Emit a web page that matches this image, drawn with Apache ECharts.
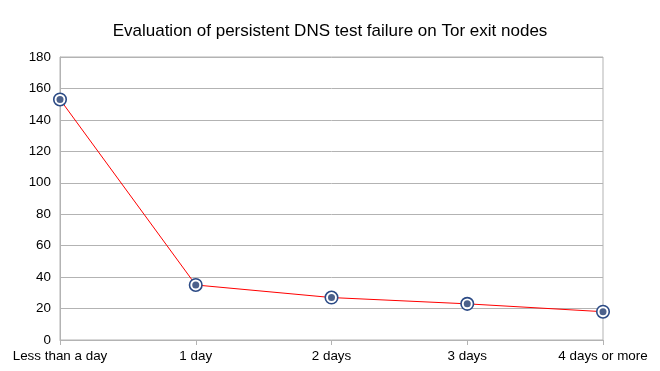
<!DOCTYPE html>
<html><head><meta charset="utf-8">
<script src="https://cdn.jsdelivr.net/npm/echarts@6/dist/echarts.min.js"></script>
<style>html,body{margin:0;padding:0;background:#fff}#c{width:660px;height:371px}</style>
</head><body><div id="c"></div>
<script>
const categories = ['Less than a day', '1 day', '2 days', '3 days', '4 days or more'];
const failures = [153, 35, 27, 23, 18];
const yTicks = { min: 0, max: 180, interval: 20 };

const chart = echarts.init(document.getElementById('c'), null, { renderer: 'canvas' });
chart.setOption({
  animation: false,
  backgroundColor: '#fff',
  textStyle: { fontFamily: 'Liberation Sans' },
  title: {
    text: 'Evaluation of persistent DNS test failure on Tor exit nodes',
    left: 'center', top: 18,
    textStyle: { fontFamily: 'Liberation Sans', fontSize: 17, fontWeight: 'normal', color: '#000' }
  },
  grid: { left: 60, right: 57, top: 57, bottom: 31, containLabel: false, show: true, borderColor: '#b3b3b3', borderWidth: 1 },
  xAxis: {
    type: 'category', data: categories, boundaryGap: false,
    axisLine: { lineStyle: { color: '#b3b3b3' } },
    axisTick: { show: true, alignWithLabel: true, length: 5, lineStyle: { color: '#b3b3b3' } },
    axisLabel: { color: '#000', fontSize: 13.4, margin: 10, fontFamily: 'Liberation Sans' },
    splitLine: { show: false }
  },
  yAxis: {
    type: 'value', min: yTicks.min, max: yTicks.max, interval: yTicks.interval,
    axisLine: { show: true, lineStyle: { color: '#b3b3b3' } },
    axisTick: { show: false },
    axisLabel: { color: '#000', fontSize: 13.4, margin: 9, fontFamily: 'Liberation Sans' },
    splitLine: { show: true, lineStyle: { color: '#b3b3b3' } }
  },
  series: [
    {
      type: 'line', data: failures, z: 2,
      lineStyle: { color: '#ff0000', width: 1 },
      symbol: 'circle', symbolSize: 12.5,
      itemStyle: { color: '#ffffff', borderColor: '#2b4a85', borderWidth: 1.6 }
    },
    {
      type: 'scatter', data: failures, z: 3,
      symbol: 'circle', symbolSize: 7,
      itemStyle: { color: '#1f3a6e' }
    }
  ]
});
</script></body></html>
